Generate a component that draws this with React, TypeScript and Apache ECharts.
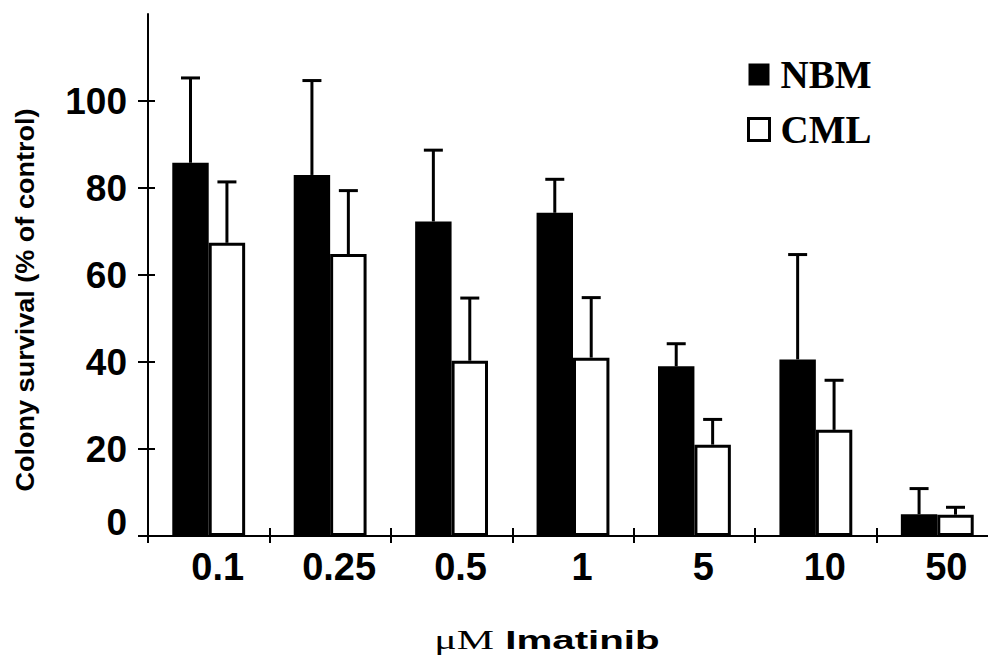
import React, { useEffect, useRef } from "react";
import * as echarts from "echarts";

const categories = ["0.1", "0.25", "0.5", "1", "5", "10", "50"];
const nbmMean = [85.8, 83.0, 72.3, 74.3, 39.0, 40.6, 5.0];
const nbmSD = [19.5, 21.7, 16.4, 7.7, 5.2, 24.1, 5.9];
const cmlMean = [67.4, 64.8, 40.3, 41.0, 21.0, 24.4, 4.9];
const cmlSD = [14.0, 14.6, 14.4, 13.8, 5.8, 11.4, 1.7];
const yTicks = [0, 20, 40, 60, 80, 100];
const seriesNames = ["NBM", "CML"];
const yTitle = "Colony survival (% of control)";

const SANS = "'Liberation Sans', Arial, Helvetica, sans-serif";
const SERIF = "'Liberation Serif', 'Times New Roman', serif";

export default function App() {
  const ref = useRef<HTMLDivElement>(null);

  useEffect(() => {
    if (!ref.current) return;
    const chart = echarts.init(ref.current, null, { renderer: "svg" });

    const errData: number[][] = [];
    nbmMean.forEach((m, i) => errData.push([i, m, nbmSD[i], -1]));
    cmlMean.forEach((m, i) => errData.push([i, m, cmlSD[i], 1]));

    const blackLine = { color: "#000", width: 2 };
    const labelStyle = {
      fontFamily: SANS,
      fontWeight: "bold" as const,
      fontSize: 37,
      color: "#000",
    };

    const option: any = {
      animation: false,
      backgroundColor: "#fff",
      grid: {
        left: 148,
        right: -10,
        top: 14,
        bottom: 121,
        containLabel: false,
        outerBoundsMode: "none",
      },
      legend: {
        orient: "vertical",
        left: 747,
        top: 55,
        padding: 0,
        itemWidth: 21,
        itemHeight: 22,
        itemGap: 16,
        selectedMode: false,
        textStyle: {
          fontFamily: SERIF,
          fontWeight: "bold",
          fontSize: 39,
          color: "#000",
          lineHeight: 39,
          padding: [0, 0, 0, 6],
        },
        data: [
          { name: seriesNames[0], icon: "rect", itemStyle: { color: "#000" } },
          {
            name: seriesNames[1],
            icon: "rect",
            itemStyle: { color: "#fff", borderColor: "#000", borderWidth: 3 },
          },
        ],
      },
      xAxis: [
        {
          type: "category",
          data: categories,
          position: "bottom",
          boundaryGap: true,
          axisLine: { show: true, lineStyle: blackLine },
          axisTick: { show: true, length: 7, lineStyle: blackLine },
          axisLabel: {
            ...labelStyle,
            fontSize: 38,
            margin: 12,
            padding: [0, 0, 0, 18],
          },
          splitLine: { show: false },
        },
        {
          type: "category",
          data: categories,
          position: "bottom",
          boundaryGap: true,
          axisLine: { show: false },
          axisTick: { show: true, inside: true, length: 8, lineStyle: blackLine },
          axisLabel: { show: false },
          splitLine: { show: false },
        },
      ],
      yAxis: [
        {
          type: "value",
          min: 0,
          max: 120,
          interval: 20,
          position: "left",
          axisLine: { show: true, onZero: false, lineStyle: blackLine },
          axisTick: { show: true, length: 10, customValues: yTicks, lineStyle: blackLine },
          axisLabel: {
            customValues: yTicks,
            margin: 21,
            formatter: (v: number) => (v === 0 ? "{z|0}" : "{n|" + v + "}"),
            rich: {
              n: { ...labelStyle },
              z: { ...labelStyle, padding: [0, 0, 27, 0] },
            },
          },
          splitLine: { show: false },
        },
        {
          type: "value",
          min: 0,
          max: 120,
          interval: 20,
          position: "left",
          axisLine: { show: false },
          axisTick: {
            show: true,
            inside: true,
            length: 7,
            customValues: yTicks,
            lineStyle: blackLine,
          },
          axisLabel: { show: false },
          splitLine: { show: false },
        },
      ],
      series: [
        {
          name: seriesNames[0],
          type: "bar",
          data: nbmMean,
          barWidth: "30%",
          barGap: "0%",
          itemStyle: { color: "#000" },
        },
        {
          name: seriesNames[1],
          type: "bar",
          data: cmlMean,
          barWidth: "30%",
          barGap: "0%",
          itemStyle: { color: "#fff", borderColor: "#000", borderWidth: 3 },
        },
        {
          name: "err",
          type: "custom",
          data: errData,
          z: 5,
          renderItem: (params: any, api: any) => {
            const idx = api.value(0);
            const mean = api.value(1);
            const sd = api.value(2);
            const side = api.value(3);
            const band = api.size([1, 0])[0];
            const base = api.coord([idx, mean]);
            const top = api.coord([idx, mean + sd]);
            const x = base[0] + side * band * 0.15;
            const st = { stroke: "#000", lineWidth: 3 };
            return {
              type: "group",
              children: [
                { type: "line", shape: { x1: x, y1: base[1], x2: x, y2: top[1] }, style: st },
                { type: "line", shape: { x1: x - 9.5, y1: top[1], x2: x + 9.5, y2: top[1] }, style: st },
              ],
            };
          },
        },
      ],
      graphic: [
        {
          type: "text",
          x: 25,
          y: 300,
          rotation: Math.PI / 2,
          scaleX: 1.04,
          style: {
            text: yTitle,
            fontFamily: SANS,
            fontWeight: "bold",
            fontSize: 26,
            fill: "#000",
            align: "center",
            verticalAlign: "middle",
          },
        },
        {
          type: "text",
          x: 547,
          y: 640,
          scaleX: 1.55,
          style: {
            text: "{a|μM}{b| Imatinib}",
            align: "center",
            verticalAlign: "middle",
            fill: "#000",
            rich: {
              a: { fontFamily: SERIF, fontSize: 27, fill: "#000" },
              b: { fontFamily: SANS, fontWeight: "bold", fontSize: 26, fill: "#000" },
            },
          },
        },
      ],
    };

    chart.setOption(option);
    return () => chart.dispose();
  }, []);

  return (
    <div
      ref={ref}
      style={{ position: "fixed", left: 0, top: 0, width: 988, height: 657, background: "#fff" }}
    />
  );
}
